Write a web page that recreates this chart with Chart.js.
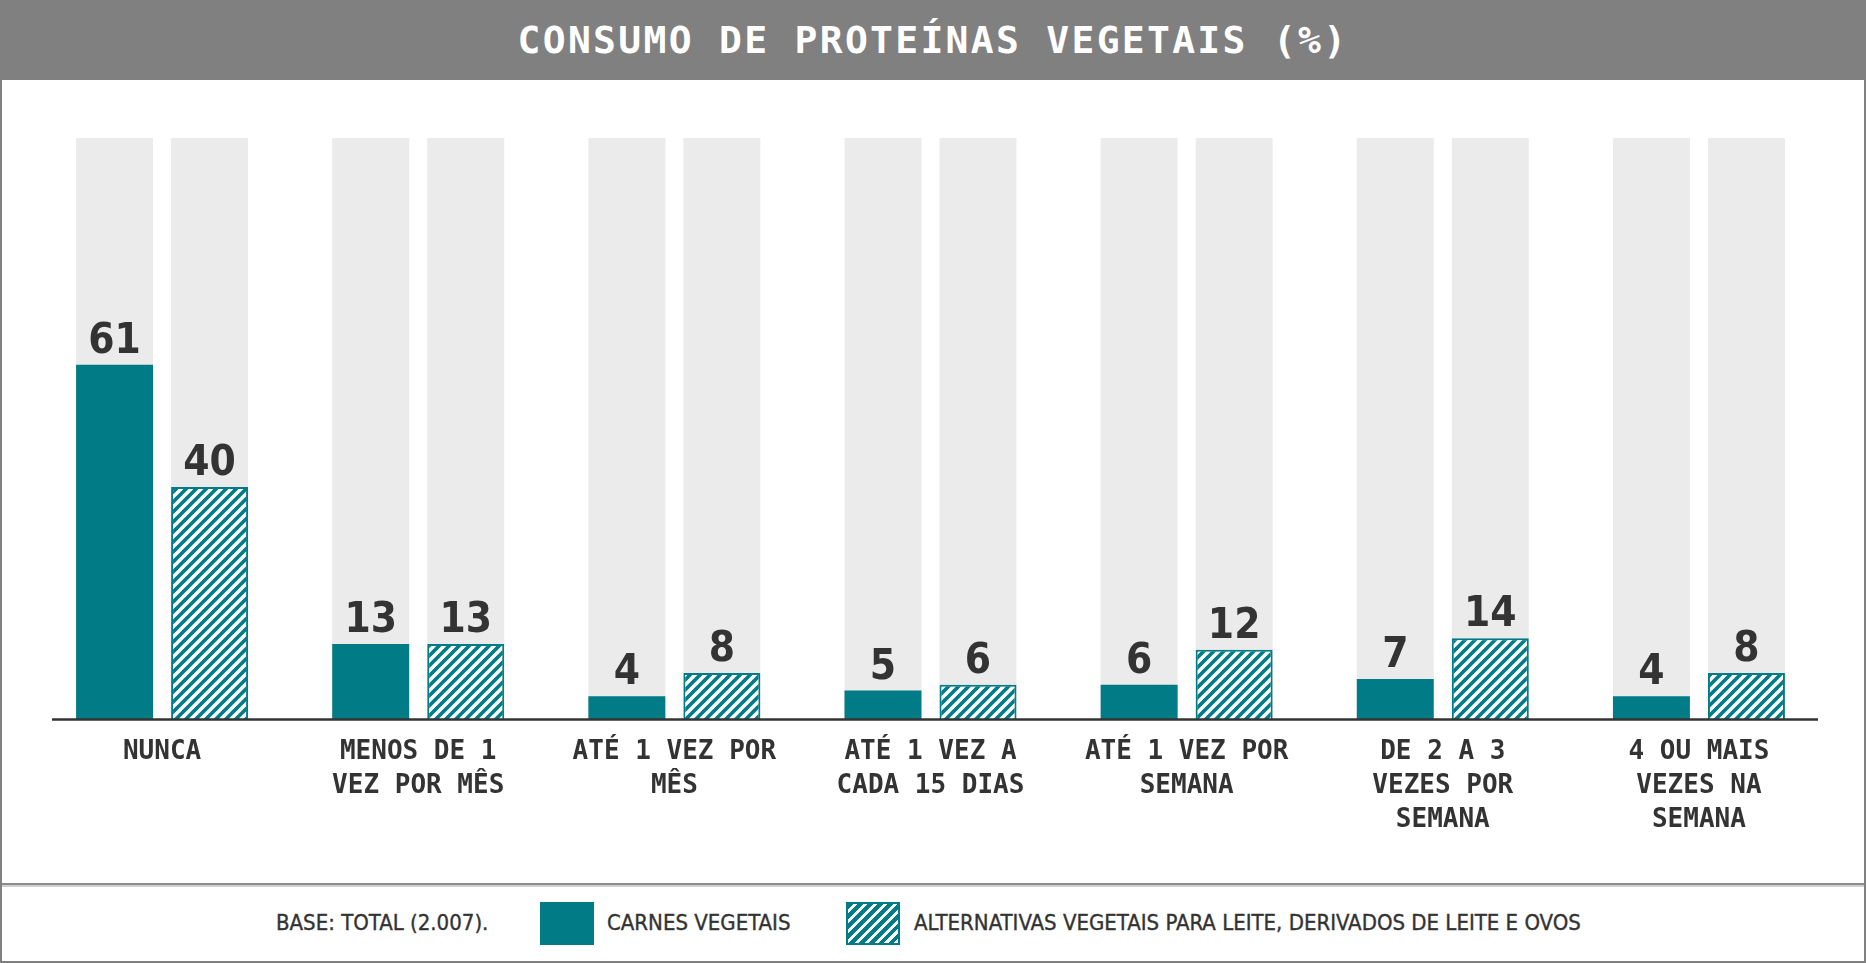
<!DOCTYPE html>
<html lang="pt">
<head>
<meta charset="UTF-8">
<title>Consumo de proteínas vegetais</title>
<script src="https://cdn.jsdelivr.net/npm/chart.js"></script>
<style>
  html, body { margin: 0; padding: 0; background: #fff; }
  .quadro { position: relative; width: 1866px; height: 963px; overflow: hidden; box-sizing: border-box; border: 2px solid #808080; border-top: 0; }
  .topo { position: absolute; left: -2px; top: 0; width: 1866px; height: 80px; background: #808080; }
  .topo h1 { margin: 0; font: bold 38px "DejaVu Sans Mono", monospace; line-height: 80px; text-align: center; color: #fff; letter-spacing: 2.3px; }
  .grafico { position: absolute; left: -2px; top: 80px; width: 1866px; height: 803px; }
  .rodape { position: absolute; left: -2px; top: 883px; width: 1866px; height: 80px; border-top: 2px solid #8c8c8c; box-shadow: inset 0 2px 0 #d0d0d0; }
  .rodape span { position: absolute; top: 26px; font: 22px "DejaVu Sans Condensed", sans-serif; line-height: 24px; color: #333; -webkit-text-stroke: 0.35px #333; }
  .caixa { position: absolute; top: 17px; width: 54px; height: 43px; box-sizing: border-box; }
  .solida { background: #017b85; }
  .listrada { border: 2px solid #017b85; background: repeating-linear-gradient(135deg, #017b85 0 4px, #fff 4px 7px); }
</style>
</head>
<body>
<div class="quadro">
  <div class="topo"><h1>CONSUMO DE PROTEÍNAS VEGETAIS (%)</h1></div>
  <div class="grafico"><canvas id="chartBar" width="1866" height="803"></canvas></div>
  <div class="rodape">
    <span style="left:276px">BASE: TOTAL (2.007).</span>
    <div class="caixa solida" style="left:540px"></div>
    <span style="left:607px">CARNES VEGETAIS</span>
    <div class="caixa listrada" style="left:846px"></div>
    <span style="left:914px">ALTERNATIVAS VEGETAIS PARA LEITE, DERIVADOS DE LEITE E OVOS</span>
  </div>
</div>
<script>
  const categorias = [
    ['NUNCA'],
    ['MENOS DE 1', 'VEZ POR MÊS'],
    ['ATÉ 1 VEZ POR', 'MÊS'],
    ['ATÉ 1 VEZ A', 'CADA 15 DIAS'],
    ['ATÉ 1 VEZ POR', 'SEMANA'],
    ['DE 2 A 3', 'VEZES POR', 'SEMANA'],
    ['4 OU MAIS', 'VEZES NA', 'SEMANA']
  ]
  const carnesVegetais = [61, 13, 4, 5, 6, 7, 4]
  const alternativasLeite = [40, 13, 8, 6, 12, 14, 8]
  const nomesSeries = ['CARNES VEGETAIS', 'ALTERNATIVAS VEGETAIS PARA LEITE, DERIVADOS DE LEITE E OVOS']

  const teal = '#017b85'

  // padrao listrado "/" para a segunda serie
  function criarListras() {
    const c = document.createElement('canvas')
    c.width = 10
    c.height = 10
    const g = c.getContext('2d')
    g.fillStyle = teal
    g.fillRect(0, 0, 10, 10)
    g.strokeStyle = '#fff'
    g.lineWidth = 3.4
    g.beginPath()
    g.moveTo(-5, 5); g.lineTo(5, -5)
    g.moveTo(0, 10); g.lineTo(10, 0)
    g.moveTo(5, 15); g.lineTo(15, 5)
    g.stroke()
    return g.createPattern(c, 'repeat')
  }

  const fundoBarras = {
    id: 'fundoBarras',
    beforeDatasetsDraw(chart) {
      const ctx = chart.ctx
      const y = chart.scales.y
      const topo = y.getPixelForValue(100)
      const base = y.getPixelForValue(0)
      ctx.save()
      ctx.fillStyle = '#ebebeb'
      chart.data.datasets.forEach((ds, i) => {
        chart.getDatasetMeta(i).data.forEach((bar) => {
          ctx.fillRect(bar.x - bar.width / 2, topo, bar.width, base - topo)
        })
      })
      ctx.restore()
    },
    afterDatasetsDraw(chart) {
      const ctx = chart.ctx
      const base = chart.scales.y.getPixelForValue(0)
      const area = chart.chartArea
      ctx.save()
      ctx.strokeStyle = '#333'
      ctx.lineWidth = 2.5
      ctx.beginPath()
      ctx.moveTo(area.left + 18, base)
      ctx.lineTo(area.right - 9, base)
      ctx.stroke()

      ctx.fillStyle = '#333'
      ctx.font = 'bold 42px "DejaVu Sans Condensed", sans-serif'
      ctx.textAlign = 'center'
      ctx.textBaseline = 'alphabetic'
      chart.data.datasets.forEach((ds, i) => {
        chart.getDatasetMeta(i).data.forEach((bar, j) => {
          ctx.fillText(ds.data[j], bar.x, bar.y - 12)
        })
      })
      ctx.restore()
    }
  }

  const ctx = document.getElementById('chartBar')

  const chart1 = new Chart(ctx, {
    type: 'bar',
    data: {
      labels: categorias,
      datasets: [{
        label: nomesSeries[0],
        data: carnesVegetais,
        backgroundColor: teal,
        borderWidth: 0
      }, {
        label: nomesSeries[1],
        data: alternativasLeite,
        backgroundColor: criarListras(),
        borderColor: teal,
        borderWidth: 2
      }]
    },
    options: {
      responsive: false,
      animation: false,
      devicePixelRatio: 1,
      categoryPercentage: 0.742,
      barPercentage: 0.81,
      layout: {
        padding: { top: 58, left: 34, right: 39, bottom: 30 }
      },
      plugins: {
        legend: { display: false },
        tooltip: { enabled: false }
      },
      scales: {
        y: {
          display: false,
          min: 0,
          max: 100
        },
        x: {
          grid: { display: false, drawTicks: false },
          border: { display: false },
          ticks: {
            color: '#333',
            padding: 16,
            autoSkip: false,
            maxRotation: 0,
            font: {
              family: '"DejaVu Sans Mono", monospace',
              weight: 'bold',
              size: 26,
              lineHeight: 1.3
            }
          }
        }
      }
    },
    plugins: [fundoBarras]
  })
</script>
</body>
</html>
